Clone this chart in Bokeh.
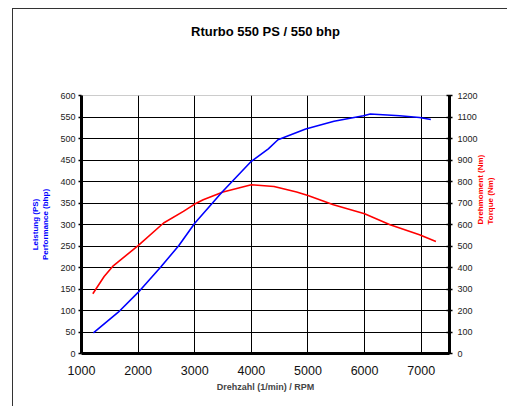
import math
from bokeh.plotting import figure
from bokeh.models import Range1d, LinearAxis, FixedTicker, Title
from bokeh.embed import file_html
from bokeh.resources import INLINE

# ---- data ----
rpm_ps = [1210, 1650, 2000, 2400, 2720, 3000, 3480, 4000, 4300, 4470, 4960, 5460, 5980, 6100, 6620, 6970, 7170]
ps = [48, 96, 142, 201, 251, 303, 375, 447, 476, 497, 522, 540, 553, 557, 553, 549, 544]

rpm_nm = [1200, 1400, 1550, 2000, 2450, 2800, 3000, 3150, 3500, 4000, 4400, 4800, 5000, 5450, 6000, 6450, 6970, 7260]
nm = [278, 358, 405, 502, 607, 661, 695, 715, 751, 785, 777, 751, 735, 692, 650, 599, 552, 521]

x_ticks = [1000, 2000, 3000, 4000, 5000, 6000, 7000]
ps_ticks = list(range(0, 601, 50))
nm_ticks = list(range(0, 1201, 100))

title = "Rturbo 550 PS / 550 bhp"
x_label = "Drehzahl (1/min) / RPM"
left_label = "Leistung (PS)\nPerformance (bhp)"
right_label = "Drehmoment (Nm)\nTorque (Nm)"

FONT = "Liberation Sans"

p = figure(width=495, height=398, output_backend="svg", toolbar_location=None,
           x_range=Range1d(1000, 7500), y_range=Range1d(0, 600),
           min_border_left=68, min_border_right=58, min_border_top=86, min_border_bottom=54,
           margin=(8, 0, 0, 12),
           styles={"border-left": "1.5px solid #333333", "border-top": "1.5px solid #333333"})
p.extra_y_ranges = {"nm": Range1d(0, 1200)}
p.title.text = ""

# blank spacer title next to the frame, real title stacked above it
p.add_layout(Title(text=" ", text_font=FONT, text_font_size="13px", standoff=35), "above")
p.add_layout(Title(text=title, align="center", standoff=10, text_font=FONT,
                   text_font_size="13px", text_font_style="bold", text_color="black"), "above")

p.outline_line_color = "#cccccc"
p.outline_line_width = 1

# grids
p.xgrid.ticker = FixedTicker(ticks=x_ticks[1:])
p.xgrid.grid_line_color = "black"
p.xgrid.grid_line_width = 1
p.ygrid.ticker = FixedTicker(ticks=ps_ticks[1:-1])
p.ygrid.grid_line_color = "black"
p.ygrid.grid_line_width = 1

# x axis
xa = p.xaxis[0]
xa.ticker = FixedTicker(ticks=x_ticks)
xa.axis_line_width = 3
xa.axis_line_color = "black"
xa.major_tick_out = 0
xa.major_tick_in = 0
xa.minor_tick_out = 0
xa.minor_tick_in = 0
xa.major_label_text_font = FONT
xa.major_label_text_font_size = "12.5px"
xa.major_label_text_color = "#111111"
xa.major_label_standoff = 12
xa.axis_label = x_label
xa.axis_label_text_font = FONT
xa.axis_label_text_font_size = "9px"
xa.axis_label_text_font_style = "bold"
xa.axis_label_standoff = 4

# left axis
ya = p.yaxis[0]
ya.ticker = FixedTicker(ticks=ps_ticks)
ya.axis_line_width = 3
ya.axis_line_color = "black"
ya.major_tick_out = 3
ya.major_tick_in = 0
ya.major_tick_line_width = 1.5
ya.minor_tick_out = 0
ya.minor_tick_in = 0
ya.major_label_text_font = FONT
ya.major_label_text_font_size = "9px"
ya.major_label_text_color = "#222222"
ya.major_label_standoff = 3
ya.axis_label = left_label
ya.axis_label_text_font = FONT
ya.axis_label_text_font_size = "8px"
ya.axis_label_text_font_style = "bold"
ya.axis_label_text_color = "#0000ff"
ya.axis_label_standoff = 7

# right axis
ra = LinearAxis(y_range_name="nm", ticker=FixedTicker(ticks=nm_ticks))
ra.axis_line_width = 3
ra.axis_line_color = "black"
ra.major_tick_out = 3
ra.major_tick_in = 3
ra.major_tick_line_width = 1.5
ra.minor_tick_out = 0
ra.minor_tick_in = 0
ra.major_label_text_font = FONT
ra.major_label_text_font_size = "9px"
ra.major_label_text_color = "#222222"
ra.major_label_standoff = 5
ra.axis_label = right_label
ra.axis_label_text_font = FONT
ra.axis_label_text_font_size = "8px"
ra.axis_label_text_font_style = "bold"
ra.axis_label_text_color = "#ff0000"
ra.axis_label_standoff = 5
ra.axis_label_orientation = math.pi / 2
p.add_layout(ra, "right")

# series
p.line(rpm_nm, nm, y_range_name="nm", line_color="#ff0000", line_width=1.6)
p.line(rpm_ps, ps, line_color="#0000ff", line_width=1.6)

open("out.html", "w").write(file_html(p, INLINE))
